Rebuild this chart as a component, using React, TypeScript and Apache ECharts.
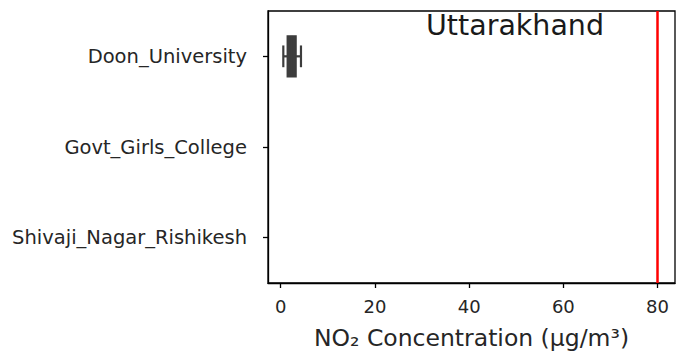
import React, { useEffect, useRef } from "react";
import * as echarts from "echarts";

const categories = ["Doon_University", "Govt_Girls_College", "Shivaji_Nagar_Rishikesh"];
// [category index, whisker low, q1, median, q3, whisker high]
const boxStats = [[0, 0.55, 1.4, 2.3, 3.25, 4.3]];
const xTicks = [0, 20, 40, 60, 80];
const limitValue = 80;
const stateTitle = "Uttarakhand";
const xAxisName = "NO₂ Concentration (μg/m³)";

const FONT = "DejaVu Sans";

export default function App() {
  const ref = useRef<HTMLDivElement>(null);
  useEffect(() => {
    if (!ref.current) return;
    const chart = echarts.init(ref.current, undefined, { renderer: "svg" });
    const boxColor = "#3d3d3d";
    chart.setOption({
      animation: false,
      grid: {
        left: 268,
        right: 3,
        top: 11,
        bottom: 73,
        show: true,
        borderColor: "#000",
        borderWidth: 1.3,
        backgroundColor: "transparent",
      },
      xAxis: {
        type: "value",
        min: -2.7,
        max: 83.7,
        splitLine: { show: false },
        axisLine: { show: true, onZero: false, lineStyle: { color: "#000", width: 1.3 } },
        axisTick: { show: true, customValues: xTicks, length: 5, lineStyle: { color: "#000", width: 1.3 } },
        axisLabel: {
          customValues: xTicks,
          fontFamily: FONT,
          fontSize: 18,
          color: "#262626",
          margin: 14,
        },
        name: xAxisName,
        nameLocation: "middle",
        nameGap: 43,
        nameTextStyle: { fontFamily: FONT, fontSize: 23.5, color: "#262626" },
      },
      yAxis: {
        type: "category",
        data: categories,
        inverse: true,
        axisLine: { show: true, onZero: false, lineStyle: { color: "#000", width: 1.3 } },
        axisTick: { show: true, alignWithLabel: true, length: 5, lineStyle: { color: "#000", width: 1.3 } },
        axisLabel: { fontFamily: FONT, fontSize: 19.5, color: "#262626", margin: 21 },
        splitLine: { show: false },
      },
      graphic: [
        {
          type: "text",
          x: 515,
          y: 25,
          style: {
            text: stateTitle,
            fontFamily: FONT,
            fontSize: 28.5,
            fill: "#1a1a1a",
            textAlign: "center",
            textVerticalAlign: "middle",
          },
          z: 10,
        },
      ],
      series: [
        {
          type: "custom",
          data: boxStats,
          encode: { x: [1, 2, 3, 4, 5], y: 0 },
          renderItem: (params: any, api: any) => {
            const cat = api.value(0);
            const lo = api.coord([api.value(1), cat]);
            const q1 = api.coord([api.value(2), cat]);
            const med = api.coord([api.value(3), cat]);
            const q3 = api.coord([api.value(4), cat]);
            const hi = api.coord([api.value(5), cat]);
            const band = api.size([0, 1])[1];
            const bh = band * 0.45;
            const ch = band * 0.24;
            const cy = lo[1];
            const stroke = { stroke: boxColor, lineWidth: 2.2 };
            return {
              type: "group",
              children: [
                { type: "line", shape: { x1: lo[0], y1: cy, x2: q1[0], y2: cy }, style: stroke },
                { type: "line", shape: { x1: q3[0], y1: cy, x2: hi[0], y2: cy }, style: stroke },
                { type: "line", shape: { x1: lo[0], y1: cy - ch / 2, x2: lo[0], y2: cy + ch / 2 }, style: stroke },
                { type: "line", shape: { x1: hi[0], y1: cy - ch / 2, x2: hi[0], y2: cy + ch / 2 }, style: stroke },
                {
                  type: "rect",
                  shape: { x: q1[0], y: cy - bh / 2, width: q3[0] - q1[0], height: bh },
                  style: { fill: boxColor, stroke: boxColor, lineWidth: 1.5 },
                },
                { type: "line", shape: { x1: med[0], y1: cy - bh / 2, x2: med[0], y2: cy + bh / 2 }, style: stroke },
              ],
            };
          },
          markLine: {
            silent: true,
            symbol: "none",
            label: { show: false },
            lineStyle: { color: "#ff0000", width: 2.5, type: "solid" },
            data: [{ xAxis: limitValue }],
          },
          z: 5,
        },
      ],
    });
    return () => chart.dispose();
  }, []);
  return (
    <div
      ref={ref}
      style={{ position: "absolute", left: 0, top: 0, width: 678, height: 356 }}
    />
  );
}
